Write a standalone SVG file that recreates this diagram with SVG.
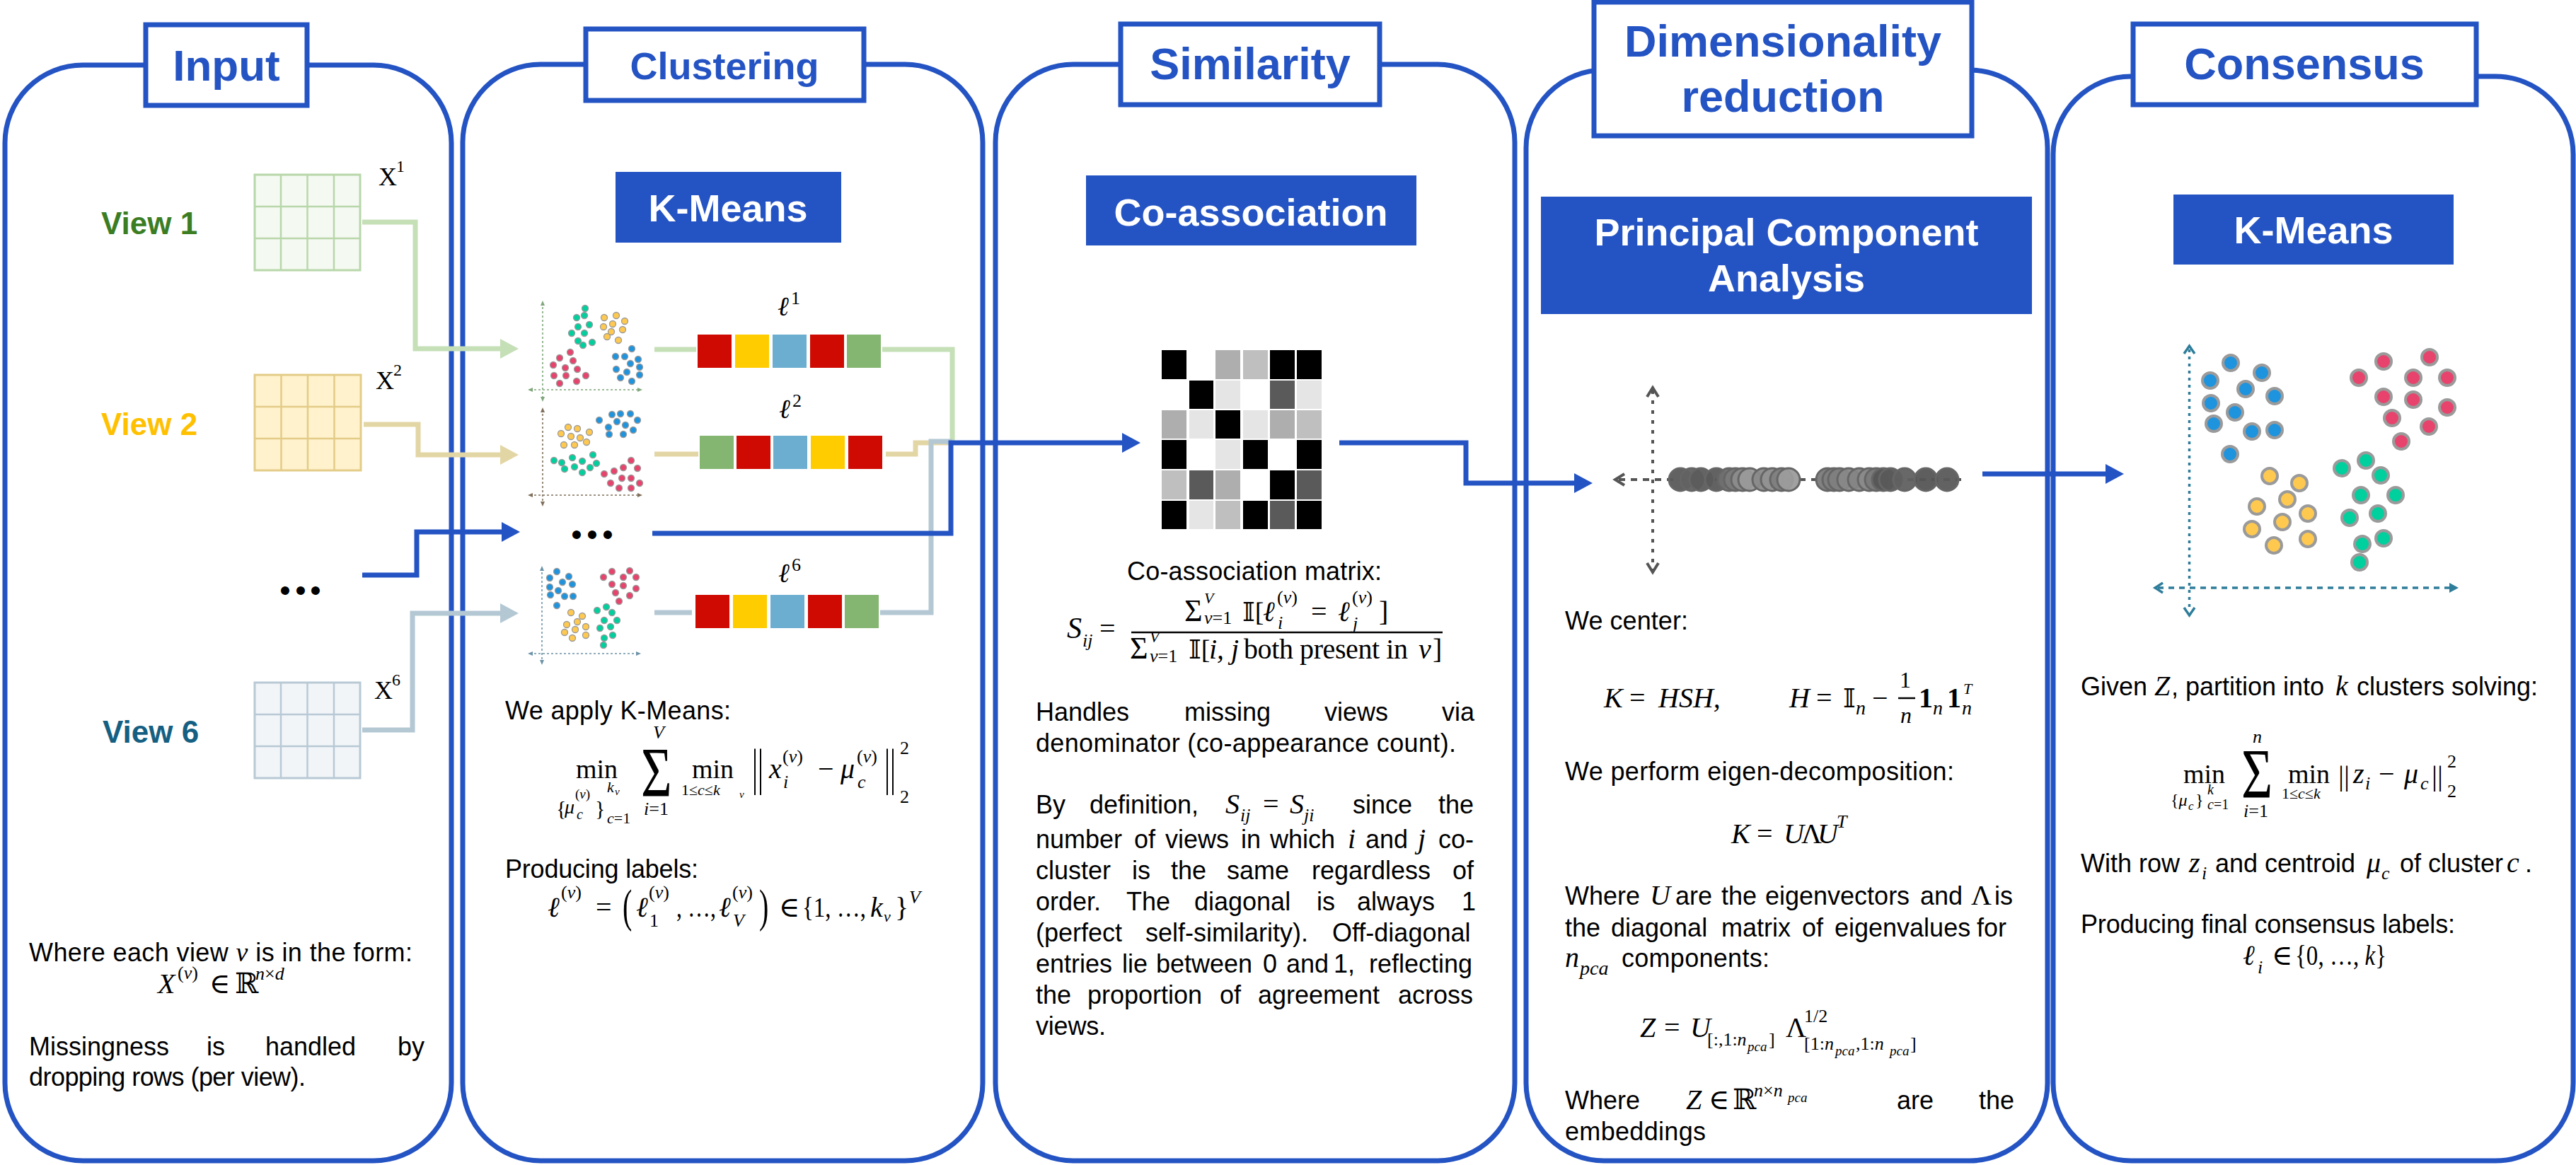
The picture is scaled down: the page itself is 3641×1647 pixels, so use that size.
<svg xmlns="http://www.w3.org/2000/svg" width="3641" height="1647" viewBox="0 0 3641 1647">
<defs>
<style>
.panel{fill:#fff;stroke:#2453C3;stroke-width:7}
.tbox{fill:#fff;stroke:#2453C3;stroke-width:7}
.tt{font-family:"Liberation Sans",Arial,sans-serif;font-weight:bold;fill:#2453C3;text-anchor:middle}
.hb{fill:#2453C3}
.ht{font-family:"Liberation Sans",Arial,sans-serif;font-weight:bold;fill:#fff;text-anchor:middle;font-size:54px}
.b{font-family:"Liberation Sans",Arial,sans-serif;font-size:36px;fill:#000}
.m{font-family:"Liberation Serif","DejaVu Serif",serif;fill:#000}
.i{font-style:italic}
.ds{font-family:"DejaVu Serif","DejaVu Sans",serif;font-style:normal}
.vw{font-family:"Liberation Sans",Arial,sans-serif;font-weight:bold;font-size:44px}
.dot{font-family:"Liberation Sans",Arial,sans-serif;font-size:44px;fill:#000;text-anchor:middle}
.gl{stroke-width:2.5;fill:none}
.sd{stroke:#9a9a9a;stroke-width:1.3}
.cd{stroke:#9a9a9a;stroke-width:4}
.G{fill:#00D09E}.Y{fill:#FFC94F}.R{fill:#E8436C}.B{fill:#1E93DE}
.cr{fill:#CE0A02}.cy{fill:#FFCC00}.cb{fill:#6BAED0}.cg{fill:#84B571}
.pd{stroke:#666;stroke-width:3;fill-opacity:0.95}
.ax{fill:none;stroke-width:1.6;stroke-dasharray:3 3}
.conn{fill:none;stroke-width:7}
</style>
<marker id="aB" markerUnits="userSpaceOnUse" viewBox="0 0 26 28" markerWidth="26" markerHeight="28" refX="1" refY="14" orient="auto"><path d="M0,0 L26,14 L0,28 Z" fill="#2453C3"/></marker>
<marker id="aG" markerUnits="userSpaceOnUse" viewBox="0 0 26 28" markerWidth="26" markerHeight="28" refX="1" refY="14" orient="auto"><path d="M0,0 L26,14 L0,28 Z" fill="#C5DFB7"/></marker>
<marker id="aY" markerUnits="userSpaceOnUse" viewBox="0 0 26 28" markerWidth="26" markerHeight="28" refX="1" refY="14" orient="auto"><path d="M0,0 L26,14 L0,28 Z" fill="#E3D6A5"/></marker>
<marker id="aS" markerUnits="userSpaceOnUse" viewBox="0 0 26 28" markerWidth="26" markerHeight="28" refX="1" refY="14" orient="auto"><path d="M0,0 L26,14 L0,28 Z" fill="#B4C8D4"/></marker>
</defs>
<rect width="3641" height="1647" fill="#fff"/>

<!-- ================= INPUT ================= -->
<g id="panel-input">
<rect class="panel" x="7" y="92" width="631" height="1549" rx="110"/>
<rect class="tbox" x="206" y="35" width="228" height="114"/>
<text class="tt" x="320" y="114" font-size="62">Input</text>
<text class="vw" x="143" y="331" fill="#3B7D23">View 1</text>
<text class="vw" x="143" y="615" fill="#FFC000">View 2</text>
<text class="vw" x="145" y="1050" fill="#156082">View 6</text>
<text class="dot"><tspan x="403" y="850">•</tspan><tspan x="425" y="850">•</tspan><tspan x="446" y="850">•</tspan></text>
<g id="x1">
<rect x="360" y="247" width="149" height="135" fill="#F4F9F1" stroke="#B8D7AA" stroke-width="3"/>
<path class="gl" stroke="#B8D7AA" d="M397,247V382M434.5,247V382M472,247V382M360,292H509M360,337H509"/>
<text class="m" x="535" y="262" font-size="36">X</text><text class="m" x="560" y="243" font-size="24">1</text>
</g>
<g id="x2">
<rect x="360" y="530" width="150" height="135" fill="#FFF2CC" stroke="#E3CC88" stroke-width="3"/>
<path class="gl" stroke="#E3CC88" d="M397.5,530V665M435,530V665M472.5,530V665M360,575H510M360,620H510"/>
<text class="m" x="531" y="550" font-size="36">X</text><text class="m" x="556" y="531" font-size="24">2</text>
</g>
<g id="x6">
<rect x="360" y="965" width="149" height="135" fill="#F2F5F8" stroke="#B8C9D5" stroke-width="3"/>
<path class="gl" stroke="#B8C9D5" d="M397,965V1100M434.5,965V1100M472,965V1100M360,1010H509M360,1055H509"/>
<text class="m" x="529" y="988" font-size="36">X</text><text class="m" x="554" y="969" font-size="24">6</text>
</g>
<text class="b" x="41" y="1359" textLength="542" lengthAdjust="spacing">Where each view <tspan class="m i" font-size="38">v</tspan> is in the form:</text>
<text class="m i" x="223" y="1404" font-size="40">X</text>
<text class="m" x="251" y="1384" font-size="26">(<tspan class="i">v</tspan>)</text>
<text class="m" x="296" y="1404" font-size="40">∈</text>
<text class="m" x="332" y="1404" font-size="40">ℝ</text>
<text class="m" x="361" y="1385" font-size="26"><tspan class="i">n</tspan>×<tspan class="i">d</tspan></text>
<text class="b" y="1492"><tspan x="41">Missingness</tspan><tspan x="292">is</tspan><tspan x="375">handled</tspan><tspan x="562">by</tspan></text>
<text class="b" x="41" y="1535" textLength="391" lengthAdjust="spacing">dropping rows (per view).</text>
</g>

<!-- ================= CLUSTERING ================= -->
<g id="panel-clustering">
<rect class="panel" x="654" y="91" width="735" height="1550" rx="110"/>
<rect class="tbox" x="828" y="41" width="393" height="101"/>
<text class="tt" x="1024" y="112" font-size="54">Clustering</text>
<rect class="hb" x="870" y="243" width="319" height="100"/>
<text class="ht" x="1029" y="313">K-Means</text>
<g id="plot1">
<path class="ax" stroke="#7FA67A" d="M767,428V565M749,551H905"/>
<path fill="#7FA67A" d="M764,432L767,425L770,432ZM764,561L767,568L770,561ZM753,548L746,551L753,554ZM901,548L908,551L901,554Z"/>
<g class="sd">
<circle class="G" cx="827" cy="436" r="4.5"/><circle class="G" cx="815" cy="449" r="4.5"/><circle class="G" cx="826" cy="446" r="4.5"/><circle class="G" cx="817" cy="462" r="4.5"/><circle class="G" cx="833" cy="459" r="4.5"/><circle class="G" cx="808" cy="471" r="4.5"/><circle class="G" cx="826" cy="471" r="4.5"/><circle class="G" cx="817" cy="482" r="4.5"/><circle class="G" cx="824" cy="488" r="4.5"/><circle class="G" cx="837" cy="484" r="4.5"/>
<circle class="Y" cx="854" cy="449" r="4.5"/><circle class="Y" cx="871" cy="446" r="4.5"/><circle class="Y" cx="866" cy="458" r="4.5"/><circle class="Y" cx="883" cy="454" r="4.5"/><circle class="Y" cx="853" cy="462" r="4.5"/><circle class="Y" cx="864" cy="469" r="4.5"/><circle class="Y" cx="880" cy="466" r="4.5"/><circle class="Y" cx="858" cy="476" r="4.5"/><circle class="Y" cx="874" cy="481" r="4.5"/>
<circle class="R" cx="806" cy="498" r="4.5"/><circle class="R" cx="791" cy="506" r="4.5"/><circle class="R" cx="810" cy="510" r="4.5"/><circle class="R" cx="782" cy="516" r="4.5"/><circle class="R" cx="799" cy="520" r="4.5"/><circle class="R" cx="816" cy="522" r="4.5"/><circle class="R" cx="783" cy="531" r="4.5"/><circle class="R" cx="800" cy="531" r="4.5"/><circle class="R" cx="828" cy="531" r="4.5"/><circle class="R" cx="791" cy="542" r="4.5"/><circle class="R" cx="815" cy="539" r="4.5"/>
<circle class="B" cx="893" cy="493" r="4.5"/><circle class="B" cx="870" cy="504" r="4.5"/><circle class="B" cx="883" cy="504" r="4.5"/><circle class="B" cx="902" cy="508" r="4.5"/><circle class="B" cx="891" cy="514" r="4.5"/><circle class="B" cx="904" cy="519" r="4.5"/><circle class="B" cx="871" cy="522" r="4.5"/><circle class="B" cx="886" cy="526" r="4.5"/><circle class="B" cx="904" cy="530" r="4.5"/><circle class="B" cx="877" cy="534" r="4.5"/><circle class="B" cx="893" cy="539" r="4.5"/>
</g>
</g>
<g id="plot2">
<path class="ax" stroke="#7F6F5A" d="M767,579V712M749,700H905"/>
<path fill="#7F6F5A" d="M764,583L767,576L770,583ZM764,709L767,716L770,709ZM753,697L746,700L753,703ZM901,697L908,700L901,703Z"/>
<g class="sd">
<circle class="Y" cx="803" cy="604" r="4.5"/><circle class="Y" cx="816" cy="606" r="4.5"/><circle class="Y" cx="793" cy="613" r="4.5"/><circle class="Y" cx="807" cy="617" r="4.5"/><circle class="Y" cx="820" cy="619" r="4.5"/><circle class="Y" cx="833" cy="611" r="4.5"/><circle class="Y" cx="797" cy="629" r="4.5"/><circle class="Y" cx="812" cy="629" r="4.5"/><circle class="Y" cx="829" cy="625" r="4.5"/>
<circle class="B" cx="847" cy="594" r="4.5"/><circle class="B" cx="865" cy="586" r="4.5"/><circle class="B" cx="877" cy="585" r="4.5"/><circle class="B" cx="891" cy="585" r="4.5"/><circle class="B" cx="872" cy="596" r="4.5"/><circle class="B" cx="884" cy="601" r="4.5"/><circle class="B" cx="901" cy="594" r="4.5"/><circle class="B" cx="860" cy="604" r="4.5"/><circle class="B" cx="895" cy="608" r="4.5"/><circle class="B" cx="861" cy="614" r="4.5"/><circle class="B" cx="881" cy="614" r="4.5"/>
<circle class="G" cx="783" cy="651" r="4.5"/><circle class="G" cx="794" cy="654" r="4.5"/><circle class="G" cx="809" cy="647" r="4.5"/><circle class="G" cx="823" cy="652" r="4.5"/><circle class="G" cx="838" cy="643" r="4.5"/><circle class="G" cx="843" cy="655" r="4.5"/><circle class="G" cx="798" cy="663" r="4.5"/><circle class="G" cx="812" cy="660" r="4.5"/><circle class="G" cx="834" cy="661" r="4.5"/><circle class="G" cx="823" cy="668" r="4.5"/>
<circle class="R" cx="892" cy="651" r="4.5"/><circle class="R" cx="854" cy="670" r="4.5"/><circle class="R" cx="868" cy="666" r="4.5"/><circle class="R" cx="881" cy="661" r="4.5"/><circle class="R" cx="901" cy="662" r="4.5"/><circle class="R" cx="879" cy="676" r="4.5"/><circle class="R" cx="892" cy="676" r="4.5"/><circle class="R" cx="863" cy="683" r="4.5"/><circle class="R" cx="904" cy="683" r="4.5"/><circle class="R" cx="875" cy="690" r="4.5"/><circle class="R" cx="892" cy="690" r="4.5"/>
</g>
</g>
<g id="plot3">
<path class="ax" stroke="#6C93A8" d="M766,803V936M749,924H903"/>
<path fill="#6C93A8" d="M763,807L766,800L769,807ZM763,933L766,940L769,933ZM753,921L746,924L753,927ZM899,921L906,924L899,927Z"/>
<g class="sd">
<circle class="B" cx="787" cy="808" r="4.5"/><circle class="B" cx="804" cy="815" r="4.5"/><circle class="B" cx="777" cy="817" r="4.5"/><circle class="B" cx="795" cy="823" r="4.5"/><circle class="B" cx="809" cy="826" r="4.5"/><circle class="B" cx="777" cy="830" r="4.5"/><circle class="B" cx="789" cy="835" r="4.5"/><circle class="B" cx="778" cy="841" r="4.5"/><circle class="B" cx="798" cy="843" r="4.5"/><circle class="B" cx="810" cy="843" r="4.5"/><circle class="B" cx="787" cy="856" r="4.5"/>
<circle class="R" cx="853" cy="816" r="4.5"/><circle class="R" cx="865" cy="808" r="4.5"/><circle class="R" cx="890" cy="807" r="4.5"/><circle class="R" cx="881" cy="816" r="4.5"/><circle class="R" cx="899" cy="816" r="4.5"/><circle class="R" cx="865" cy="826" r="4.5"/><circle class="R" cx="881" cy="828" r="4.5"/><circle class="R" cx="899" cy="832" r="4.5"/><circle class="R" cx="870" cy="838" r="4.5"/><circle class="R" cx="890" cy="842" r="4.5"/><circle class="R" cx="875" cy="850" r="4.5"/>
<circle class="Y" cx="807" cy="866" r="4.5"/><circle class="Y" cx="823" cy="871" r="4.5"/><circle class="Y" cx="816" cy="879" r="4.5"/><circle class="Y" cx="801" cy="883" r="4.5"/><circle class="Y" cx="828" cy="886" r="4.5"/><circle class="Y" cx="813" cy="890" r="4.5"/><circle class="Y" cx="798" cy="894" r="4.5"/><circle class="Y" cx="828" cy="898" r="4.5"/><circle class="Y" cx="809" cy="902" r="4.5"/>
<circle class="G" cx="844" cy="863" r="4.5"/><circle class="G" cx="857" cy="858" r="4.5"/><circle class="G" cx="865" cy="866" r="4.5"/><circle class="G" cx="854" cy="877" r="4.5"/><circle class="G" cx="872" cy="877" r="4.5"/><circle class="G" cx="863" cy="886" r="4.5"/><circle class="G" cx="848" cy="888" r="4.5"/><circle class="G" cx="854" cy="902" r="4.5"/><circle class="G" cx="866" cy="898" r="4.5"/><circle class="G" cx="853" cy="912" r="4.5"/>
</g>
</g>
<text class="dot"><tspan x="815" y="771">•</tspan><tspan x="837" y="771">•</tspan><tspan x="859" y="771">•</tspan></text>
<g id="labels1">
<text class="m i" x="1099" y="446" font-size="38">ℓ</text><text class="m" x="1118" y="430" font-size="26">1</text>
<rect class="cr" x="986" y="473" width="48" height="47"/><rect class="cy" x="1039" y="473" width="48" height="47"/><rect class="cb" x="1092" y="473" width="48" height="47"/><rect class="cr" x="1145" y="473" width="48" height="47"/><rect class="cg" x="1197" y="473" width="48" height="47"/>
</g>
<g id="labels2">
<text class="m i" x="1101" y="591" font-size="38">ℓ</text><text class="m" x="1120" y="575" font-size="26">2</text>
<rect class="cg" x="989" y="616" width="48" height="47"/><rect class="cr" x="1041" y="616" width="48" height="47"/><rect class="cb" x="1093" y="616" width="48" height="47"/><rect class="cy" x="1146" y="616" width="48" height="47"/><rect class="cr" x="1199" y="616" width="48" height="47"/>
</g>
<g id="labels6">
<text class="m i" x="1100" y="823" font-size="38">ℓ</text><text class="m" x="1119" y="807" font-size="26">6</text>
<rect class="cr" x="983" y="841" width="48" height="47"/><rect class="cy" x="1036" y="841" width="48" height="47"/><rect class="cb" x="1089" y="841" width="48" height="47"/><rect class="cr" x="1142" y="841" width="48" height="47"/><rect class="cg" x="1194" y="841" width="48" height="47"/>
</g>
<text class="b" x="714" y="1017" textLength="319" lengthAdjust="spacing">We apply K-Means:</text>
<g id="f-kmeans1">
<text class="m" x="814" y="1100" font-size="38">min</text>
<text class="m" x="786" y="1153" font-size="30">{</text>
<text class="m i" x="798" y="1150" font-size="28">μ</text>
<text class="m" x="813" y="1129" font-size="19">(<tspan class="i">v</tspan>)</text>
<text class="m i" x="815" y="1158" font-size="20">c</text>
<text class="m" x="841" y="1153" font-size="30">}</text>
<text class="m i" x="858" y="1120" font-size="22">k</text>
<text class="m i" x="869" y="1124" font-size="15">v</text>
<text class="m" x="858" y="1164" font-size="22"><tspan class="i">c</tspan>=1</text>
<text class="m" font-size="100" transform="translate(906,1125) scale(0.75,1)">Σ</text>
<text class="m i" x="923" y="1044" font-size="26">V</text>
<text class="m" x="910" y="1152" font-size="26"><tspan class="i">i</tspan>=1</text>
<text class="m" x="978" y="1100" font-size="38">min</text>
<text class="m" x="963" y="1124" font-size="22">1≤<tspan class="i">c</tspan>≤<tspan class="i">k</tspan></text>
<text class="m i" x="1045" y="1128" font-size="15">v</text>
<text class="m" font-size="40" transform="translate(1063,1109) scale(1,1.8)">||</text>
<text class="m i" x="1087" y="1100" font-size="40">x</text>
<text class="m" x="1106" y="1078" font-size="26">(<tspan class="i">v</tspan>)</text>
<text class="m i" x="1107" y="1114" font-size="26">i</text>
<text class="m" x="1156" y="1100" font-size="40">−</text>
<text class="m i" x="1188" y="1100" font-size="40">μ</text>
<text class="m" x="1211" y="1078" font-size="26">(<tspan class="i">v</tspan>)</text>
<text class="m i" x="1212" y="1114" font-size="26">c</text>
<text class="m" font-size="40" transform="translate(1250,1109) scale(1,1.8)">||</text>
<text class="m" x="1272" y="1066" font-size="26">2</text>
<text class="m" x="1272" y="1135" font-size="26">2</text>
</g>
<text class="b" x="714" y="1241" textLength="273" lengthAdjust="spacing">Producing labels:</text>
<g id="f-labels">
<text class="m i" x="774" y="1296" font-size="40">ℓ</text>
<text class="m" x="793" y="1270" font-size="26">(<tspan class="i">v</tspan>)</text>
<text class="m" x="842" y="1296" font-size="40">=</text>
<text class="m" font-size="40" transform="translate(880,1303) scale(1,1.65)">(</text>
<text class="m i" x="899" y="1296" font-size="40">ℓ</text>
<text class="m" x="917" y="1270" font-size="26">(<tspan class="i">v</tspan>)</text>
<text class="m" x="918" y="1310" font-size="26">1</text>
<text class="m" x="956" y="1296" font-size="40" textLength="56" lengthAdjust="spacingAndGlyphs">, …,</text>
<text class="m i" x="1016" y="1296" font-size="40">ℓ</text>
<text class="m" x="1035" y="1270" font-size="26">(<tspan class="i">v</tspan>)</text>
<text class="m i" x="1036" y="1310" font-size="26">V</text>
<text class="m" font-size="40" transform="translate(1073,1303) scale(1,1.65)">)</text>
<text class="m" x="1101" y="1296" font-size="40">∈</text>
<text class="m" x="1134" y="1296" font-size="40" textLength="90" lengthAdjust="spacingAndGlyphs">{1, …,</text>
<text class="m i" x="1230" y="1296" font-size="40">k</text>
<text class="m i" x="1249" y="1303" font-size="22">v</text>
<text class="m" x="1265" y="1296" font-size="40">}</text>
<text class="m i" x="1285" y="1277" font-size="26">V</text>
</g>
</g>

<!-- ================= SIMILARITY ================= -->
<g id="panel-similarity">
<rect class="panel" x="1407" y="91" width="734" height="1550" rx="110"/>
<rect class="tbox" x="1584" y="34" width="366" height="114"/>
<text class="tt" x="1767" y="112" font-size="63">Similarity</text>
<rect class="hb" x="1535" y="248" width="467" height="99"/>
<text class="ht" x="1768" y="319">Co-association</text>
<g id="coassoc-matrix">
<rect x="1642" y="495" width="35" height="41" fill="#000"/><rect x="1718" y="495" width="35" height="41" fill="#AEAEAE"/><rect x="1757" y="495" width="35" height="41" fill="#BFBFBF"/><rect x="1795" y="495" width="35" height="41" fill="#000"/><rect x="1833" y="495" width="35" height="41" fill="#000"/>
<rect x="1681" y="538" width="34" height="40" fill="#000"/><rect x="1718" y="538" width="35" height="40" fill="#E5E5E5"/><rect x="1795" y="538" width="35" height="40" fill="#5A5A5A"/><rect x="1833" y="538" width="35" height="40" fill="#E5E5E5"/>
<rect x="1642" y="580" width="35" height="40" fill="#AEAEAE"/><rect x="1681" y="580" width="34" height="40" fill="#E5E5E5"/><rect x="1718" y="580" width="35" height="40" fill="#000"/><rect x="1757" y="580" width="35" height="40" fill="#E5E5E5"/><rect x="1795" y="580" width="35" height="40" fill="#AEAEAE"/><rect x="1833" y="580" width="35" height="40" fill="#BFBFBF"/>
<rect x="1642" y="622" width="35" height="41" fill="#000"/><rect x="1718" y="622" width="35" height="41" fill="#E5E5E5"/><rect x="1757" y="622" width="35" height="41" fill="#000"/><rect x="1833" y="622" width="35" height="41" fill="#000"/>
<rect x="1642" y="665" width="35" height="41" fill="#BFBFBF"/><rect x="1681" y="665" width="34" height="41" fill="#5A5A5A"/><rect x="1718" y="665" width="35" height="41" fill="#AEAEAE"/><rect x="1795" y="665" width="35" height="41" fill="#000"/><rect x="1833" y="665" width="35" height="41" fill="#5A5A5A"/>
<rect x="1642" y="708" width="35" height="40" fill="#000"/><rect x="1681" y="708" width="34" height="40" fill="#E5E5E5"/><rect x="1718" y="708" width="35" height="40" fill="#BFBFBF"/><rect x="1757" y="708" width="35" height="40" fill="#000"/><rect x="1795" y="708" width="35" height="40" fill="#5A5A5A"/><rect x="1833" y="708" width="35" height="40" fill="#000"/>
</g>
<text class="b" x="1593" y="820" textLength="360" lengthAdjust="spacing">Co-association matrix:</text>
<g id="f-sij">
<text class="m" x="1674" y="878" font-size="44">Σ</text>
<text class="m i" x="1702" y="853" font-size="22">V</text>
<text class="m" x="1702" y="882" font-size="26"><tspan class="i">v</tspan>=1</text>
<text class="m" x="1756" y="878" font-size="38"><tspan class="ds">𝕀</tspan>[</text>
<text class="m i" x="1785" y="878" font-size="40">ℓ</text>
<text class="m" x="1805" y="853" font-size="26">(<tspan class="i">v</tspan>)</text>
<text class="m i" x="1806" y="889" font-size="26">i</text>
<text class="m" x="1853" y="878" font-size="40">=</text>
<text class="m i" x="1891" y="878" font-size="40">ℓ</text>
<text class="m" x="1911" y="853" font-size="26">(<tspan class="i">v</tspan>)</text>
<text class="m i" x="1912" y="890" font-size="26">j</text>
<text class="m" x="1949" y="878" font-size="40">]</text>
<line x1="1599" y1="894" x2="2039" y2="894" stroke="#000" stroke-width="2.5"/>
<text class="m i" x="1508" y="902" font-size="42">S</text>
<text class="m i" x="1530" y="914" font-size="26">ij</text>
<text class="m" x="1554" y="902" font-size="40">=</text>
<text class="m" x="1597" y="931" font-size="44">Σ</text>
<text class="m i" x="1625" y="908" font-size="22">V</text>
<text class="m" x="1625" y="936" font-size="26"><tspan class="i">v</tspan>=1</text>
<text class="m" x="1680" y="931" font-size="38"><tspan class="ds">𝕀</tspan>[</text>
<text class="m i" x="1709" y="931" font-size="40">i, j</text>
<text class="m" x="1758" y="931" font-size="40" textLength="232" lengthAdjust="spacing">both present in</text>
<text class="m i" x="2005" y="931" font-size="40">v</text>
<text class="m" x="2025" y="931" font-size="40">]</text>
</g>
<text class="b" y="1019"><tspan x="1464">Handles</tspan><tspan x="1674">missing</tspan><tspan x="1872">views</tspan><tspan x="2038">via</tspan></text>
<text class="b" x="1464" y="1063" textLength="594" lengthAdjust="spacing">denominator (co-appearance count).</text>
<text class="b" y="1150"><tspan x="1464">By</tspan><tspan x="1540">definition,</tspan><tspan x="1912">since</tspan><tspan x="2033">the</tspan></text>
<text class="m i" x="1732" y="1150" font-size="40">S</text>
<text class="m i" x="1753" y="1161" font-size="26">ij</text>
<text class="m" x="1785" y="1150" font-size="40">=</text>
<text class="m i" x="1823" y="1150" font-size="40">S</text>
<text class="m i" x="1843" y="1161" font-size="26">ji</text>
<text class="b" y="1199"><tspan x="1464">number</tspan><tspan x="1603">of</tspan><tspan x="1647">views</tspan><tspan x="1754">in</tspan><tspan x="1795">which</tspan><tspan x="1930">and</tspan><tspan x="2033">co-</tspan></text>
<text class="m i" x="1905" y="1199" font-size="40">i</text>
<text class="m i" x="2004" y="1199" font-size="40">j</text>
<text class="b" y="1243"><tspan x="1464">cluster</tspan><tspan x="1600">is</tspan><tspan x="1655">the</tspan><tspan x="1734">same</tspan><tspan x="1854">regardless</tspan><tspan x="2053">of</tspan></text>
<text class="b" y="1287"><tspan x="1464">order.</tspan><tspan x="1592">The</tspan><tspan x="1688">diagonal</tspan><tspan x="1861">is</tspan><tspan x="1918">always</tspan><tspan x="2066">1</tspan></text>
<text class="b" y="1331"><tspan x="1464">(perfect</tspan><tspan x="1619">self-similarity).</tspan><tspan x="1883">Off-diagonal</tspan></text>
<text class="b" y="1375"><tspan x="1464">entries</tspan><tspan x="1586">lie</tspan><tspan x="1634">between</tspan><tspan x="1785">0</tspan><tspan x="1818">and</tspan><tspan x="1885">1,</tspan><tspan x="1935">reflecting</tspan></text>
<text class="b" y="1419"><tspan x="1464">the</tspan><tspan x="1537">proportion</tspan><tspan x="1724">of</tspan><tspan x="1778">agreement</tspan><tspan x="1976">across</tspan></text>
<text class="b" x="1464" y="1463" textLength="99" lengthAdjust="spacing">views.</text>
</g>

<!-- ================= DIMENSIONALITY REDUCTION ================= -->
<g id="panel-dimred">
<rect class="panel" x="2157" y="99" width="737" height="1542" rx="110"/>
<rect class="tbox" x="2253" y="3" width="534" height="189"/>
<text class="tt" x="2520" y="80" font-size="63">Dimensionality</text>
<text class="tt" x="2520" y="158" font-size="63">reduction</text>
<rect class="hb" x="2178" y="278" width="694" height="166"/>
<text class="ht" x="2525" y="347">Principal Component</text>
<text class="ht" x="2525" y="412">Analysis</text>
<g id="pca-plot">
<path d="M2336,552V805" fill="none" stroke="#555" stroke-width="4" stroke-dasharray="5 9"/>
<path d="M2288,678H2772" fill="none" stroke="#555" stroke-width="4" stroke-dasharray="9 8"/>
<path d="M2328,561L2336,548L2344,561M2328,796L2336,809L2344,796M2296,670L2283,678L2296,686" fill="none" stroke="#555" stroke-width="4"/>
<g class="pd">
<circle cx="2375" cy="678" r="16" fill="#5A5A5A"/><circle cx="2391" cy="678" r="16" fill="#626262"/><circle cx="2404" cy="678" r="16" fill="#5C5C5C"/><circle cx="2426" cy="678" r="16" fill="#5A5A5A"/><circle cx="2444" cy="678" r="16" fill="#707070"/><circle cx="2453" cy="678" r="16" fill="#7A7A7A"/><circle cx="2463" cy="678" r="16" fill="#8C8C8C"/><circle cx="2473" cy="678" r="16" fill="#9A9A9A"/><circle cx="2493" cy="678" r="16" fill="#8A8A8A"/><circle cx="2505" cy="678" r="16" fill="#929292"/><circle cx="2518" cy="678" r="16" fill="#808080"/><circle cx="2528" cy="678" r="16" fill="#9C9C9C"/>
<circle cx="2583" cy="678" r="16" fill="#7A7A7A"/><circle cx="2592" cy="678" r="16" fill="#7E7E7E"/><circle cx="2600" cy="678" r="16" fill="#808080"/><circle cx="2613" cy="678" r="16" fill="#888888"/><circle cx="2628" cy="678" r="16" fill="#858585"/><circle cx="2642" cy="678" r="16" fill="#8A8A8A"/><circle cx="2652" cy="678" r="16" fill="#7A7A7A"/><circle cx="2662" cy="678" r="16" fill="#555555"/><circle cx="2672" cy="678" r="16" fill="#5A5A5A"/><circle cx="2692" cy="678" r="16" fill="#606060"/><circle cx="2722" cy="678" r="16" fill="#555555"/><circle cx="2752" cy="678" r="16" fill="#5A5A5A"/>
</g>
</g>
<text class="b" x="2212" y="890" textLength="174" lengthAdjust="spacing">We center:</text>
<g id="f-center">
<text class="m i" x="2267" y="1000" font-size="40">K</text>
<text class="m" x="2303" y="1000" font-size="40">=</text>
<text class="m i" x="2344" y="1000" font-size="40">HSH,</text>
<text class="m i" x="2529" y="1000" font-size="40">H</text>
<text class="m" x="2567" y="1000" font-size="40">=</text>
<text class="m" x="2605" y="1000" font-size="38"><tspan class="ds">𝕀</tspan></text>
<text class="m i" x="2623" y="1010" font-size="28">n</text>
<text class="m" x="2646" y="1000" font-size="40">−</text>
<text class="m" x="2685" y="972" font-size="32">1</text>
<line x1="2683" y1="987" x2="2707" y2="987" stroke="#000" stroke-width="2.5"/>
<text class="m i" x="2686" y="1022" font-size="32">n</text>
<text class="m" x="2712" y="1000" font-size="40" font-weight="bold">1</text>
<text class="m i" x="2732" y="1010" font-size="28">n</text>
<text class="m" x="2752" y="1000" font-size="40" font-weight="bold">1</text>
<text class="m i" x="2775" y="981" font-size="22">T</text>
<text class="m i" x="2773" y="1010" font-size="28">n</text>
</g>
<text class="b" x="2212" y="1103" textLength="550" lengthAdjust="spacing">We perform eigen-decomposition:</text>
<g id="f-eig">
<text class="m i" x="2447" y="1192" font-size="40">K</text>
<text class="m" x="2483" y="1192" font-size="40">=</text>
<text class="m i" x="2521" y="1192" font-size="40">U</text>
<text class="m" x="2546" y="1192" font-size="40">Λ</text>
<text class="m i" x="2569" y="1192" font-size="40">U</text>
<text class="m i" x="2596" y="1170" font-size="26">T</text>
</g>
<text class="b" y="1279"><tspan x="2212">Where</tspan><tspan x="2368">are</tspan><tspan x="2433">the</tspan><tspan x="2495">eigenvectors</tspan><tspan x="2714">and</tspan><tspan x="2819">is</tspan></text>
<text class="m i" x="2332" y="1279" font-size="40">U</text>
<text class="m" x="2786" y="1279" font-size="40">Λ</text>
<text class="b" y="1324"><tspan x="2212">the</tspan><tspan x="2277">diagonal</tspan><tspan x="2433">matrix</tspan><tspan x="2547">of</tspan><tspan x="2593">eigenvalues</tspan><tspan x="2794">for</tspan></text>
<text class="m i" x="2212" y="1367" font-size="40">n</text>
<text class="m i" x="2233" y="1378" font-size="28">pca</text>
<text class="b" x="2292" y="1367" textLength="209" lengthAdjust="spacing">components:</text>
<g id="f-z">
<text class="m i" x="2318" y="1466" font-size="40">Z</text>
<text class="m" x="2352" y="1466" font-size="40">=</text>
<text class="m i" x="2389" y="1466" font-size="40">U</text>
<text class="m" x="2413" y="1478" font-size="26">[:,1:<tspan class="i">n</tspan></text>
<text class="m i" x="2470" y="1486" font-size="19">pca</text>
<text class="m" x="2500" y="1478" font-size="26">]</text>
<text class="m" x="2524" y="1466" font-size="40">Λ</text>
<text class="m" x="2550" y="1445" font-size="26">1/2</text>
<text class="m" x="2550" y="1484" font-size="26">[1:<tspan class="i">n</tspan></text>
<text class="m i" x="2594" y="1492" font-size="19">pca</text>
<text class="m" x="2623" y="1484" font-size="26">,1:<tspan class="i">n</tspan></text>
<text class="m i" x="2671" y="1492" font-size="19">pca</text>
<text class="m" x="2700" y="1484" font-size="26">]</text>
</g>
<text class="b" y="1568"><tspan x="2212">Where</tspan><tspan x="2681">are</tspan><tspan x="2797">the</tspan></text>
<text class="m i" x="2383" y="1568" font-size="40">Z</text>
<text class="m" x="2415" y="1568" font-size="40">∈</text>
<text class="m" x="2449" y="1568" font-size="40">ℝ</text>
<text class="m" x="2479" y="1550" font-size="26"><tspan class="i">n</tspan>×<tspan class="i">n</tspan></text>
<text class="m i" x="2527" y="1558" font-size="19">pca</text>
<text class="b" x="2212" y="1612" textLength="199" lengthAdjust="spacing">embeddings</text>
</g>

<!-- ================= CONSENSUS ================= -->
<g id="panel-consensus">
<rect class="panel" x="2902" y="108" width="735" height="1533" rx="110"/>
<rect class="tbox" x="3015" y="34" width="485" height="114"/>
<text class="tt" x="3257" y="112" font-size="63">Consensus</text>
<rect class="hb" x="3072" y="275" width="396" height="99"/>
<text class="ht" x="3270" y="344">K-Means</text>
<g id="consensus-plot">
<path d="M3094.5,494V864" fill="none" stroke="#2E7D9A" stroke-width="3.5" stroke-dasharray="4 6"/>
<path d="M3050,831H3468" fill="none" stroke="#2E7D9A" stroke-width="3.5" stroke-dasharray="8 7"/>
<path d="M3087,500L3094.5,489L3102,500M3087,859L3094.5,870L3102,859M3057,824L3046,831L3057,838" fill="none" stroke="#2E7D9A" stroke-width="3.5"/>
<path d="M3462,824L3475,831L3462,838Z" fill="#2E7D9A"/>
<g class="cd">
<circle class="B" cx="3153" cy="513" r="11"/><circle class="B" cx="3124" cy="538" r="11"/><circle class="B" cx="3197" cy="527" r="11"/><circle class="B" cx="3174" cy="550" r="11"/><circle class="B" cx="3215" cy="560" r="11"/><circle class="B" cx="3125" cy="570" r="11"/><circle class="B" cx="3159" cy="583" r="11"/><circle class="B" cx="3129" cy="599" r="11"/><circle class="B" cx="3183" cy="610" r="11"/><circle class="B" cx="3215" cy="608" r="11"/><circle class="B" cx="3152" cy="642" r="11"/>
<circle class="R" cx="3369" cy="511" r="11"/><circle class="R" cx="3434" cy="505" r="11"/><circle class="R" cx="3334" cy="534" r="11"/><circle class="R" cx="3411" cy="534" r="11"/><circle class="R" cx="3459" cy="534" r="11"/><circle class="R" cx="3369" cy="561" r="11"/><circle class="R" cx="3411" cy="565" r="11"/><circle class="R" cx="3459" cy="576" r="11"/><circle class="R" cx="3381" cy="591" r="11"/><circle class="R" cx="3433" cy="603" r="11"/><circle class="R" cx="3394" cy="624" r="11"/>
<circle class="Y" cx="3208" cy="673" r="11"/><circle class="Y" cx="3250" cy="683" r="11"/><circle class="Y" cx="3233" cy="706" r="11"/><circle class="Y" cx="3190" cy="716" r="11"/><circle class="Y" cx="3262" cy="726" r="11"/><circle class="Y" cx="3226" cy="738" r="11"/><circle class="Y" cx="3183" cy="748" r="11"/><circle class="Y" cx="3262" cy="762" r="11"/><circle class="Y" cx="3214" cy="771" r="11"/>
<circle class="G" cx="3310" cy="662" r="11"/><circle class="G" cx="3344" cy="651" r="11"/><circle class="G" cx="3365" cy="672" r="11"/><circle class="G" cx="3337" cy="700" r="11"/><circle class="G" cx="3386" cy="700" r="11"/><circle class="G" cx="3361" cy="726" r="11"/><circle class="G" cx="3321" cy="732" r="11"/><circle class="G" cx="3369" cy="761" r="11"/><circle class="G" cx="3339" cy="769" r="11"/><circle class="G" cx="3335" cy="795" r="11"/>
</g>
</g>
<text class="b" y="983"><tspan x="2941">Given</tspan><tspan x="3069">, partition into</tspan><tspan x="3331">clusters solving:</tspan></text>
<text class="m i" x="3045" y="983" font-size="40">Z</text>
<text class="m i" x="3301" y="983" font-size="40">k</text>
<g id="f-kmeans2">
<text class="m" x="3086" y="1107" font-size="38">min</text>
<text class="m" x="3068" y="1139" font-size="24">{<tspan class="i">μ</tspan></text>
<text class="m i" x="3093" y="1145" font-size="17">c</text>
<text class="m" x="3103" y="1139" font-size="24">}</text>
<text class="m i" x="3120" y="1123" font-size="20">k</text>
<text class="m" x="3120" y="1144" font-size="20"><tspan class="i">c</tspan>=1</text>
<text class="m" font-size="100" transform="translate(3168,1127) scale(0.76,1)">Σ</text>
<text class="m i" x="3184" y="1050" font-size="26">n</text>
<text class="m" x="3171" y="1155" font-size="26"><tspan class="i">i</tspan>=1</text>
<text class="m" x="3234" y="1107" font-size="38">min</text>
<text class="m" x="3225" y="1129" font-size="22">1≤<tspan class="i">c</tspan>≤<tspan class="i">k</tspan></text>
<text class="m" x="3305" y="1110" font-size="40">||</text>
<text class="m i" x="3326" y="1107" font-size="40">z</text>
<text class="m i" x="3343" y="1116" font-size="26">i</text>
<text class="m" x="3362" y="1107" font-size="40">−</text>
<text class="m i" x="3398" y="1107" font-size="40">μ</text>
<text class="m i" x="3421" y="1116" font-size="26">c</text>
<text class="m" x="3437" y="1110" font-size="40">||</text>
<text class="m" x="3459" y="1085" font-size="26">2</text>
<text class="m" x="3459" y="1127" font-size="26">2</text>
</g>
<text class="b" y="1233"><tspan x="2941">With row</tspan><tspan x="3131">and centroid</tspan><tspan x="3392">of cluster</tspan><tspan x="3569">.</tspan></text>
<text class="m i" x="3094" y="1233" font-size="40">z</text>
<text class="m i" x="3112" y="1243" font-size="26">i</text>
<text class="m i" x="3345" y="1233" font-size="40">μ</text>
<text class="m i" x="3366" y="1243" font-size="26">c</text>
<text class="m i" x="3543" y="1233" font-size="40">c</text>
<text class="b" x="2941" y="1319" textLength="529" lengthAdjust="spacing">Producing final consensus labels:</text>
<text class="m i" x="3170" y="1364" font-size="40">ℓ</text>
<text class="m i" x="3191" y="1376" font-size="26">i</text>
<text class="m" x="3211" y="1364" font-size="40">∈</text>
<text class="m" x="3244" y="1364" font-size="40" textLength="129" lengthAdjust="spacingAndGlyphs">{0, …, <tspan class="i">k</tspan>}</text>
</g>

<!-- ================= CONNECTORS ================= -->
<g id="connectors">
<path class="conn" stroke="#C5DFB7" d="M512,314H587V493H708" marker-end="url(#aG)"/>
<path class="conn" stroke="#E3D6A5" d="M514,600H591V643H708" marker-end="url(#aY)"/>
<path class="conn" stroke="#B4C8D4" d="M512,1032H583V867H708" marker-end="url(#aS)"/>
<path class="conn" stroke="#2453C3" d="M512,813H589V752H710" marker-end="url(#aB)"/>
<path class="conn" stroke="#C5DFB7" d="M925,494H984M1247,494H1346V626"/>
<path class="conn" stroke="#E3D6A5" d="M925,642H987M1252,642H1294V626H1346"/>
<path class="conn" stroke="#B4C8D4" d="M925,866H978M1244,866H1316V624H1346"/>
<path class="conn" stroke="#2453C3" d="M922,754H1344V626H1587" marker-end="url(#aB)"/>
<path class="conn" stroke="#2453C3" d="M1893,626H2072V683H2226" marker-end="url(#aB)"/>
<path class="conn" stroke="#2453C3" d="M2802,670H2977" marker-end="url(#aB)"/>
</g>
</svg>
